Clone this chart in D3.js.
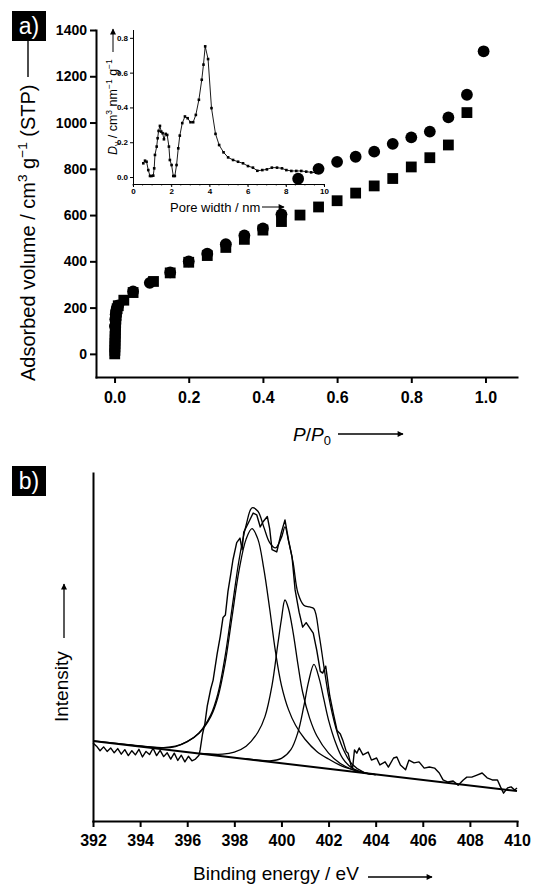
<!DOCTYPE html>
<html>
<head>
<meta charset="utf-8">
<script src="https://cdn.jsdelivr.net/npm/d3@7/dist/d3.min.js"></script>
<style>
  body { margin: 0; background: #fff; }
  svg { display: block; font-family: Arial, "Liberation Sans", sans-serif; }
</style>
</head>
<body>
<svg id="chart" width="538" height="884"></svg>
<script>
'use strict';

// ---- panel a: isotherm (P/P0, cm3/g STP)
var isoCircles = [
  [0.001, 120], [0.002, 150], [0.003, 170], [0.004, 185], [0.006, 198], [0.01, 210],
  [0.05, 270], [0.095, 307], [0.15, 352], [0.2, 400], [0.25, 433], [0.3, 474],
  [0.35, 512], [0.4, 542], [0.45, 603], [0.495, 757], [0.55, 800], [0.6, 830],
  [0.65, 852], [0.7, 874], [0.75, 908], [0.8, 936], [0.85, 961], [0.9, 1022],
  [0.95, 1120], [0.995, 1308]
];
var isoSquares = [
  [0.0005, 0], [0.001, 15], [0.001, 30], [0.0012, 45], [0.0015, 60], [0.0015, 75],
  [0.002, 90], [0.002, 105], [0.0025, 120], [0.003, 135], [0.0035, 150], [0.004, 165],
  [0.005, 180], [0.007, 195], [0.01, 208], [0.025, 232], [0.05, 265], [0.105, 313],
  [0.15, 350], [0.2, 396], [0.25, 425], [0.3, 460], [0.35, 495], [0.4, 535],
  [0.45, 572], [0.5, 600], [0.55, 635], [0.6, 662], [0.65, 695], [0.7, 726],
  [0.75, 758], [0.8, 808], [0.85, 848], [0.9, 903], [0.95, 1043]
];
var isoXTicks = [0, 0.2, 0.4, 0.6, 0.8, 1.0];
var isoYTicks = [0, 200, 400, 600, 800, 1000, 1200, 1400];

// ---- inset: pore size distribution (nm, Dv)
var psd = [
  [0.54, 0.079], [0.63, 0.094], [0.71, 0.088], [0.80, 0.040], [0.89, 0.006], [0.97, 0.006],
  [1.06, 0.008], [1.11, 0.050], [1.15, 0.127], [1.24, 0.175], [1.29, 0.223], [1.34, 0.265],
  [1.41, 0.294], [1.48, 0.261], [1.55, 0.252], [1.62, 0.217], [1.71, 0.248], [1.79, 0.242],
  [1.88, 0.175], [1.93, 0.098], [2.02, 0.069], [2.11, 0.006], [2.19, 0.006], [2.28, 0.069],
  [2.37, 0.165], [2.45, 0.238], [2.58, 0.310], [2.72, 0.348], [2.86, 0.338], [3.01, 0.315],
  [3.15, 0.315], [3.29, 0.357], [3.45, 0.444], [3.60, 0.559], [3.69, 0.646], [3.78, 0.751],
  [3.93, 0.678], [4.11, 0.396], [4.32, 0.248], [4.51, 0.184], [4.74, 0.142], [4.98, 0.113],
  [5.24, 0.098], [5.50, 0.088], [5.76, 0.079], [6.02, 0.063], [6.28, 0.054], [6.51, 0.036],
  [6.77, 0.040], [7.01, 0.044], [7.27, 0.054], [7.54, 0.054], [7.80, 0.050], [8.03, 0.040],
  [8.29, 0.035], [8.55, 0.035], [8.81, 0.035], [9.07, 0.031], [9.33, 0.027], [9.59, 0.025],
  [9.77, 0.031]
];
var psdXTicks = [0, 2, 4, 6, 8, 10];
var psdYTicks = [0, 0.2, 0.4, 0.6, 0.8];

// ---- panel b: XPS N1s (eV, arbitrary intensity)
var xpsRaw = [
  [392.0, 22.4], [392.15, 21.5], [392.3, 20.2], [392.45, 21.3], [392.6, 20.0], [392.75, 21.0],
  [392.9, 19.6], [393.05, 20.8], [393.2, 19.2], [393.35, 20.5], [393.5, 18.8], [393.65, 20.2],
  [393.8, 19.0], [393.95, 20.6], [394.1, 18.4], [394.25, 20.0], [394.4, 19.1], [394.55, 20.9],
  [394.7, 18.8], [394.85, 20.3], [395.0, 18.5], [395.15, 19.6], [395.3, 17.8], [395.45, 19.5],
  [395.6, 17.4], [395.75, 18.9], [395.9, 17.0], [396.05, 18.6], [396.2, 17.3], [396.35, 17.8],
  [396.5, 18.9], [396.55, 20.5], [396.65, 25], [396.75, 28], [396.85, 33], [397.0, 38],
  [397.1, 40.5], [397.27, 48], [397.4, 53], [397.52, 58.5], [397.62, 59.2], [397.73, 66],
  [397.85, 71], [397.94, 75], [398.1, 80], [398.24, 81.3], [398.33, 78], [398.4, 83],
  [398.62, 86], [398.8, 88.5], [398.95, 88], [399.1, 84.5], [399.22, 86], [399.4, 87.5],
  [399.5, 84], [399.6, 78], [399.8, 77.3], [400.0, 83], [400.15, 86.5], [400.3, 80.7],
  [400.45, 75.9], [400.58, 66.4], [400.75, 60], [400.9, 55.7], [401.05, 57], [401.15, 56],
  [401.35, 54], [401.5, 49], [401.65, 43], [401.75, 42.5], [401.88, 44.5], [401.95, 41],
  [402.05, 36], [402.2, 31], [402.36, 26], [402.5, 25], [402.6, 23.3], [402.75, 20],
  [402.83, 19.5], [402.95, 16], [403.02, 15.2], [403.1, 20.4], [403.2, 19.5], [403.3, 21],
  [403.46, 19], [403.68, 19.8], [403.82, 17.5], [404.04, 18.1], [404.18, 16.1], [404.4, 17],
  [404.54, 15.5], [404.76, 18.1], [404.9, 18.4], [405.05, 16.1], [405.27, 14.7], [405.41, 17.5],
  [405.63, 16.7], [405.84, 17], [406.06, 15.2], [406.28, 15.5], [406.5, 15.2], [406.7, 13.8],
  [406.86, 11.8], [407.07, 11.2], [407.29, 11.5], [407.5, 10.3], [407.72, 11.8], [407.87, 12.6],
  [408.08, 12.6], [408.3, 13.2], [408.52, 13.8], [408.73, 12.4], [408.95, 11.8], [409.17, 11.8],
  [409.3, 9.8], [409.43, 8.0], [409.6, 9.5], [409.75, 9.8], [409.9, 8.9], [410.0, 9.5]
];
var xpsEnvelope = [
  [392.0, 23.0], [393.0, 22.3], [394.0, 21.6], [395.0, 21.0], [395.5, 21.4], [396.0, 22.8],
  [396.5, 25.3], [397.0, 30.5], [397.3, 36.5], [397.6, 47], [397.9, 61], [398.2, 75],
  [398.5, 85], [398.75, 90], [399.0, 89], [399.25, 84.5], [399.5, 80], [399.75, 78.5],
  [400.0, 81.5], [400.15, 84.5], [400.3, 80.5], [400.5, 74], [400.7, 65.5], [400.95, 62],
  [401.2, 61.5], [401.38, 61], [401.6, 53.5], [401.8, 44.5], [402.0, 36], [402.3, 27],
  [402.6, 21], [403.0, 16.3], [403.5, 14.0], [404.0, 13.3]
];
var xpsPeak1 = [
  [393.5, 21.9], [394.5, 21.2], [395.0, 21.1], [395.5, 21.5], [396.0, 22.8], [396.5, 25.2],
  [397.0, 30], [397.3, 35.5], [397.6, 45], [397.9, 58.5], [398.2, 72], [398.5, 81],
  [398.75, 84], [399.0, 81], [399.25, 72.5], [399.5, 61], [399.75, 48.5], [400.0, 39],
  [400.3, 32], [400.6, 27.5], [401.0, 23.5], [401.5, 20], [402.0, 17.8], [402.5, 16],
  [403.0, 14.8], [403.5, 13.9]
];
var xpsPeak2 = [
  [396.5, 19.4], [397.5, 19.2], [398.0, 19.8], [398.5, 21.5], [399.0, 25.5], [399.3, 30],
  [399.6, 39], [399.85, 51], [400.0, 58], [400.15, 63.5], [400.3, 61], [400.5, 54],
  [400.7, 45], [400.9, 37], [401.2, 29.5], [401.5, 24.5], [402.0, 19.5], [402.5, 16.5],
  [403.0, 14.8], [403.5, 13.8], [404.0, 13.3]
];
var xpsPeak3 = [
  [398.5, 17.9], [399.5, 17.3], [400.0, 18.0], [400.4, 20.5], [400.7, 25.5], [400.95, 33],
  [401.15, 40], [401.38, 45], [401.6, 41], [401.8, 35], [402.0, 29], [402.3, 22.5],
  [402.6, 18], [403.0, 15.2], [403.5, 13.9], [404.0, 13.3]
];
var xpsBaseline = [[392, 23.0], [410, 8.6]];
var xpsXTicks = [392, 394, 396, 398, 400, 402, 404, 406, 408, 410];

var svg = d3.select('#chart');

// flecha pequeña para las etiquetas de ejes
svg.append('defs').append('marker')
  .attr('id', 'head').attr('viewBox', '0 0 10 10')
  .attr('refX', 9).attr('refY', 5)
  .attr('markerWidth', 7).attr('markerHeight', 6)
  .attr('markerUnits', 'userSpaceOnUse')
  .attr('orient', 'auto')
  .append('path').attr('d', 'M0,0 L10,5 L0,10 Z').attr('fill', '#000');

function arrow(x1, y1, x2, y2, w) {
  svg.append('line')
    .attr('x1', x1).attr('y1', y1).attr('x2', x2).attr('y2', y2)
    .attr('stroke', '#000').attr('stroke-width', w || 1.3)
    .attr('marker-end', 'url(#head)');
}

// text with italic / sup / sub parts
function rich(sel, parts, size) {
  var shift = 0;
  parts.forEach(function(p) {
    var kind = p[1] || '';
    var ts = sel.append('tspan').text(p[0]);
    var target = 0;
    if (kind.indexOf('sup') >= 0) target = -size * 0.4;
    if (kind.indexOf('sub') >= 0) target = size * 0.22;
    ts.attr('dy', target - shift);
    shift = target;
    if (target !== 0) ts.attr('font-size', size * 0.68);
    if (kind.indexOf('i') === 0) ts.attr('font-style', 'italic');
  });
}

function label(x, y, txt) {
  svg.append('rect').attr('x', x).attr('y', y).attr('width', 34).attr('height', 30).attr('fill', '#000');
  svg.append('text').attr('x', x + 17).attr('y', y + 23).attr('text-anchor', 'middle')
    .attr('fill', '#fff').attr('font-size', 23).text(txt);
}

function styleAxis(g, w, size, bold) {
  g.select('.domain').attr('stroke-width', w).attr('stroke-linecap', 'square');
  g.selectAll('.tick line').attr('stroke-width', w);
  g.selectAll('.tick text').attr('font-size', size).attr('font-weight', bold ? 'bold' : 'normal')
    .attr('fill', '#000').attr('font-family', 'Arial, "Liberation Sans", sans-serif');
}

// ================= panel a
var xA = d3.scaleLinear().domain([-0.05, 1.085]).range([96, 517]);
var yA = d3.scaleLinear().domain([-100, 1400]).range([377, 30]);

var gx = svg.append('g').attr('transform', 'translate(0,' + yA.range()[0] + ')')
  .call(d3.axisBottom(xA).tickValues(isoXTicks).tickFormat(d3.format('.1f'))
    .tickSize(6).tickPadding(9).tickSizeOuter(0));
styleAxis(gx, 2, 16, true);
var gy = svg.append('g').attr('transform', 'translate(' + xA.range()[0] + ',0)')
  .call(d3.axisLeft(yA).tickValues(isoYTicks).tickFormat(d3.format('d'))
    .tickSize(6).tickPadding(3).tickSizeOuter(0));
styleAxis(gy, 2, 14, true);

svg.append('g').selectAll('rect').data(isoSquares).enter().append('rect')
  .attr('x', function(d) { return xA(d[0]) - 5.4; })
  .attr('y', function(d) { return yA(d[1]) - 5.4; })
  .attr('width', 10.8).attr('height', 10.8).attr('fill', '#000');
svg.append('g').selectAll('circle').data(isoCircles).enter().append('circle')
  .attr('cx', function(d) { return xA(d[0]); })
  .attr('cy', function(d) { return yA(d[1]); })
  .attr('r', 5.9).attr('fill', '#000');

// axis titles a
var ty = svg.append('text').attr('transform', 'translate(35,381) rotate(-90)')
  .attr('font-size', 20);
rich(ty, [['Adsorbed volume / cm'], ['3', 'sup'], [' g'], ['\u22121', 'sup'], [' (STP)']], 20);
arrow(28, 77, 28, 31, 1.4);

var tx = svg.append('text').attr('x', 293).attr('y', 441).attr('font-size', 19);
rich(tx, [['P', 'i'], ['/'], ['P', 'i'], ['0', 'sub']], 19);
arrow(338, 434, 403, 434, 1.4);

// ---- inset
var xI = d3.scaleLinear().domain([0, 10]).range([133, 324]);
var yI = d3.scaleLinear().domain([-0.04, 0.845]).range([184, 30]);

var gix = svg.append('g').attr('transform', 'translate(0,' + yI.range()[0] + ')')
  .call(d3.axisBottom(xI).tickValues(psdXTicks).tickFormat(d3.format('d'))
    .tickSize(3).tickPadding(1).tickSizeOuter(0));
styleAxis(gix, 1, 8, true);
gix.select('.domain').attr('stroke-dasharray', '1.2,0.8');
var giy = svg.append('g').attr('transform', 'translate(' + xI.range()[0] + ',0)')
  .call(d3.axisLeft(yI).tickValues(psdYTicks).tickFormat(d3.format('.1f'))
    .tickSize(3).tickPadding(2).tickSizeOuter(0));
styleAxis(giy, 1, 8, true);
// el eje del recuadro también tiene marcas menores
svg.append('g').selectAll('line').data(d3.range(0, 10.01, 0.5)).enter().append('line')
  .attr('x1', function(d) { return xI(d); }).attr('x2', function(d) { return xI(d); })
  .attr('y1', 184).attr('y2', 185.5).attr('stroke', '#000').attr('stroke-width', 0.8);

var linePsd = d3.line().x(function(d) { return xI(d[0]); }).y(function(d) { return yI(d[1]); });
svg.append('path').datum(psd).attr('d', linePsd)
  .attr('fill', 'none').attr('stroke', '#000').attr('stroke-width', 0.9);
svg.append('g').selectAll('rect').data(psd).enter().append('rect')
  .attr('x', function(d) { return xI(d[0]) - 1.3; })
  .attr('y', function(d) { return yI(d[1]) - 1.3; })
  .attr('width', 2.6).attr('height', 2.6).attr('fill', '#000');

var tiy = svg.append('text').attr('transform', 'translate(117,155) rotate(-90)')
  .attr('font-size', 12.5);
rich(tiy, [['D', 'i'], ['v', 'sub'], [' / cm'], ['3', 'sup'], [' nm'], ['\u22121', 'sup'], [' g'], ['\u22121', 'sup']], 12.5);
arrow(113, 52, 113, 29, 1);

svg.append('text').attr('x', 170).attr('y', 212).attr('font-size', 13).text('Pore width / nm');
arrow(262, 207, 284, 207, 1);

label(12, 11, 'a)');

// ================= panel b
var xB = d3.scaleLinear().domain([392, 410]).range([93, 517]);
var yB = d3.scaleLinear().domain([0, 100]).range([821, 473]);

var gbx = svg.append('g').attr('transform', 'translate(0,' + yB.range()[0] + ')')
  .call(d3.axisBottom(xB).tickValues(xpsXTicks).tickFormat(d3.format('d'))
    .tickSize(6).tickPadding(8).tickSizeOuter(0));
styleAxis(gbx, 2, 16, true);
var gby = svg.append('g').attr('transform', 'translate(' + xB.range()[0] + ',0)')
  .call(d3.axisLeft(yB).tickValues([]).tickSizeOuter(0));
styleAxis(gby, 2, 16, true);

var lineB = d3.line().x(function(d) { return xB(d[0]); }).y(function(d) { return yB(d[1]); });
var smoothB = d3.line().curve(d3.curveCatmullRom)
  .x(function(d) { return xB(d[0]); }).y(function(d) { return yB(d[1]); });

[xpsPeak1, xpsPeak2, xpsPeak3, xpsEnvelope].forEach(function(serie) {
  svg.append('path').datum(serie).attr('d', smoothB)
    .attr('fill', 'none').attr('stroke', '#000').attr('stroke-width', 1.3);
});
svg.append('path').datum(xpsRaw).attr('d', lineB)
  .attr('fill', 'none').attr('stroke', '#000').attr('stroke-width', 1.4)
  .attr('stroke-linejoin', 'round');
svg.append('path').datum(xpsBaseline).attr('d', lineB)
  .attr('fill', 'none').attr('stroke', '#000').attr('stroke-width', 2);

var tb = svg.append('text').attr('transform', 'translate(68,722) rotate(-90)').attr('font-size', 19);
rich(tb, [['Intensity']], 19);
arrow(64, 638, 64, 584, 1.3);

svg.append('text').attr('x', 193).attr('y', 880).attr('font-size', 19).text('Binding energy / eV');
arrow(368, 877, 432, 877, 1.3);

label(12, 466, 'b)');
</script>
</body>
</html>
